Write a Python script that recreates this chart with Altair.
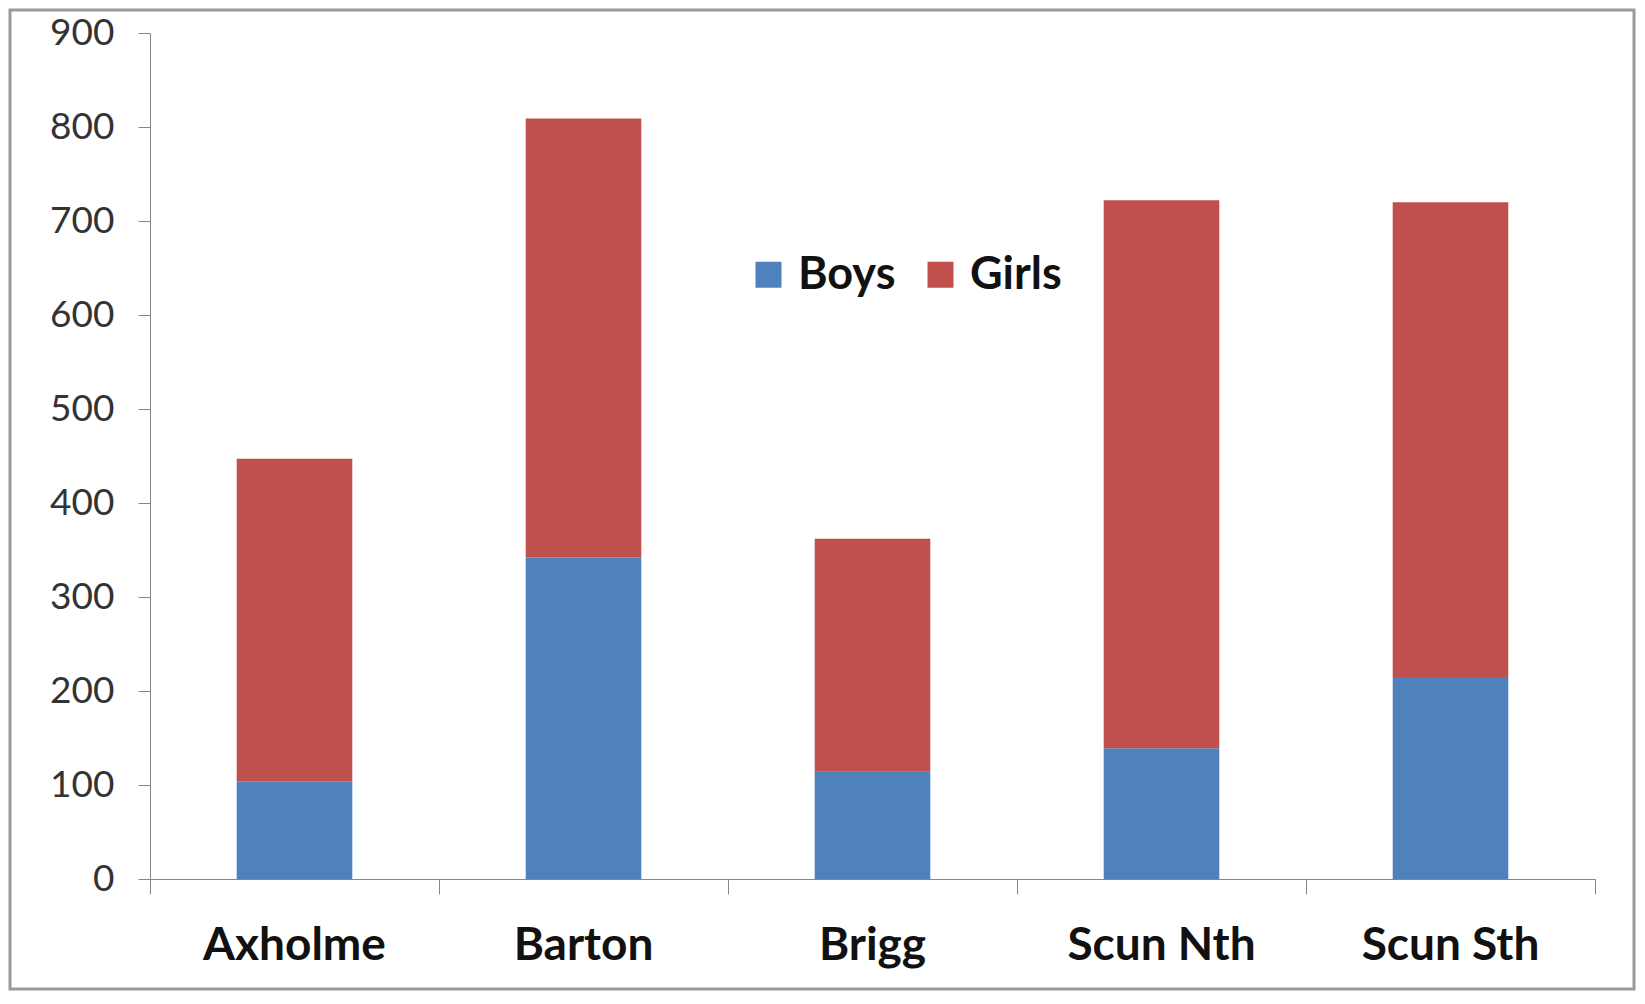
import altair as alt
import pandas as pd

schools = ["Axholme", "Barton", "Brigg", "Scun Nth", "Scun Sth"]
boys = [104, 342, 114, 139, 215]
girls = [343, 467, 248, 583, 505]
series = ["Boys", "Girls"]
colors = ["#4F81BD", "#C0504D"]
y_ticks = [0, 100, 200, 300, 400, 500, 600, 700, 800, 900]
divisions = [0, 1, 2, 3, 4, 5]

rows = []
for s, b, g in zip(schools, boys, girls):
    rows.append({"school": s, "gender": "Boys", "count": b, "ord": 0})
    rows.append({"school": s, "gender": "Girls", "count": g, "ord": 1})
df = pd.DataFrame(rows)

FONT = "Lato"
AXIS_COLOR = "#868686"

bars = alt.Chart(df).mark_bar().encode(
    x=alt.X("school:N", sort=schools, title=None,
            scale=alt.Scale(paddingInner=0.6, paddingOuter=0.3),
            axis=alt.Axis(orient="bottom", labelAngle=0, labelFont=FONT,
                          labelFontSize=46, labelLimit=400,
                          labelFontWeight="bold", labelColor="#111111",
                          ticks=False, tickSize=0, domain=False,
                          labelPadding=44)),
    y=alt.Y("count:Q", stack="zero", title=None,
            scale=alt.Scale(domain=[0, 900]),
            axis=alt.Axis(values=y_ticks, grid=False, labelFont=FONT,
                          labelFontSize=37, labelColor="#333333",
                          tickSize=12, tickColor=AXIS_COLOR,
                          domainColor=AXIS_COLOR, labelPadding=24)),
    color=alt.Color("gender:N", scale=alt.Scale(domain=series, range=colors),
                    legend=alt.Legend(title=None, orient="none", legendX=596,
                                      legendY=219, direction="horizontal",
                                      symbolType="square", symbolSize=676,
                                      symbolStrokeWidth=0,
                                      labelFont=FONT, labelFontSize=45,
                                      labelFontWeight="bold",
                                      labelColor="#111111",
                                      labelOffset=7, columnPadding=22)),
    order=alt.Order("ord:Q", sort="ascending"),
)

ticks = alt.Chart(pd.DataFrame({"d": divisions})).mark_point(opacity=0).encode(
    x=alt.X("d:Q", title=None,
            scale=alt.Scale(domain=[0, 5], nice=False, zero=False),
            axis=alt.Axis(values=divisions, labels=False, grid=False,
                          orient="bottom", tickSize=15,
                          tickColor=AXIS_COLOR, domainColor=AXIS_COLOR)),
)

frame = alt.Chart(pd.DataFrame({"a": [0]})).mark_rect(
    fill=None, stroke="#9A9A9A", strokeWidth=3
).encode(
    x=alt.value(-140), x2=alt.value(1484),
    y=alt.value(-23), y2=alt.value(956),
)

chart = alt.layer(frame, ticks, bars).resolve_scale(
    x="independent"
).resolve_axis(x="independent").properties(
    width=1445, height=846,
    autosize=alt.AutoSizeParams(type="none"),
    padding={"left": 142, "top": 25, "right": 42, "bottom": 112},
).configure_view(stroke=None)

chart.save("out.html", embed_options={"renderer": "svg", "actions": False})
